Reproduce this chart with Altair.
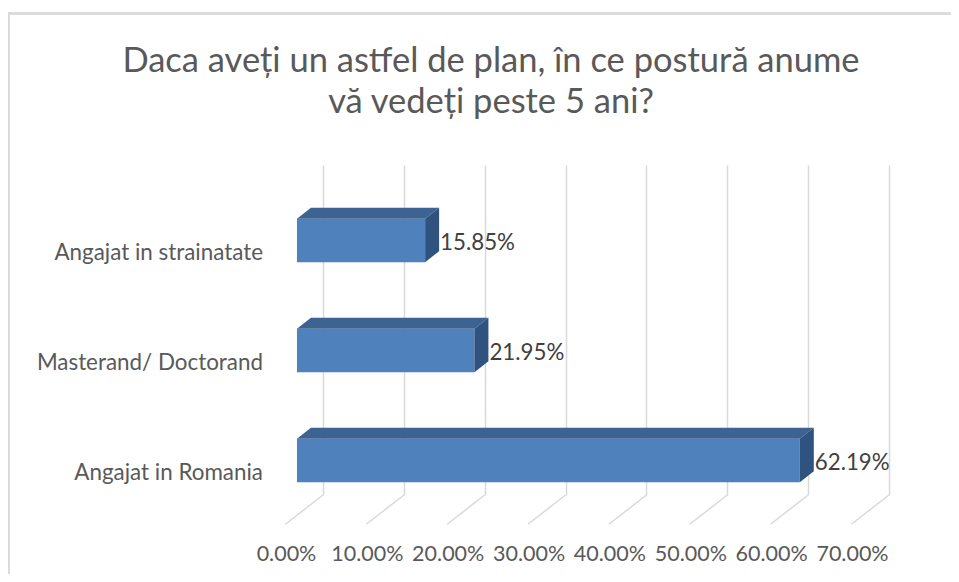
import altair as alt
import pandas as pd

# ---- data ----
categories = ["Angajat in strainatate", "Masterand/ Doctorand", "Angajat in Romania"]
values = [0.1585, 0.2195, 0.6219]
ticks = [0.0, 0.1, 0.2, 0.3, 0.4, 0.5, 0.6, 0.7]
title_lines = ["Daca aveți un astfel de plan, în ce postură anume", "vă vedeți peste 5 ani?"]

# ---- 3D styling constants (value units on x, band units on y) ----
FX = -0.0322  # front plane shift along x relative to back wall
FY = 0.186    # front plane shift along y
DX = 0.0173   # bar depth along x
DY = 0.10     # bar depth along y
H = 0.395     # front face thickness
FLOOR = 0.266 # floor depth below the back wall

FONT = "Lato"
FRONT = "#4F81BD"
TOPC = "#3C6392"
SIDE = "#2F527E"
GRID = "#D9D9D9"
TXT = "#595959"

front_rows, top_rows, side_rows = [], [], []
for i, (c, v) in enumerate(zip(categories, values)):
    mid = i + 0.5
    yt = mid + FY - H / 2
    yb = mid + FY + H / 2
    x0 = FX
    x1 = FX + v
    front_rows.append(dict(cat=c, x0=x0, x1=x1, y0=yt, y1=yb, mid=mid, lx=x1 + DX,
                           ly=mid + FY, label=f"{v*100:.2f}%", zero=0.0))
    top_rows += [
        dict(cat=c, k=0, x=x0, y=yt, y2=yt),
        dict(cat=c, k=1, x=x0 + DX, y=yt, y2=yt - DY),
        dict(cat=c, k=2, x=x1, y=yt, y2=yt - DY),
        dict(cat=c, k=3, x=x1 + DX, y=yt - DY, y2=yt - DY),
    ]
    side_rows += [
        dict(cat=c, k=0, x=x1, y=yt, y2=yb),
        dict(cat=c, k=1, x=x1 + DX, y=yt - DY, y2=yb - DY),
    ]

front_df = pd.DataFrame(front_rows)
top_df = pd.DataFrame(top_rows)
side_df = pd.DataFrame(side_rows)
tick_df = pd.DataFrame(dict(t=ticks, yb=[3.0] * len(ticks), yf=[3.0 + FLOOR] * len(ticks)))

xs = alt.Scale(domain=[0, 0.7], nice=False, zero=False)
ys = alt.Scale(domain=[0, 3], reverse=True, nice=False, zero=False)
xaxis = alt.Axis(values=ticks, format=".2%", grid=True, gridColor=GRID, gridWidth=1.5,
                 domain=False, ticks=False, tickSize=0, labelOffset=-37, labelPadding=48,
                 labelFont=FONT, labelFontSize=21.5, labelColor=TXT, title=None,
                 labelFlush=False, labelOverlap=False)

floor = alt.Chart(tick_df).mark_rule(color=GRID, strokeWidth=1.5, x2Offset=-37.6).encode(
    x=alt.X("t:Q", scale=xs, axis=xaxis),
    x2="t:Q",
    y=alt.Y("yb:Q", scale=ys, axis=None),
    y2="yf:Q",
)

front = alt.Chart(front_df).mark_rect(color=FRONT).encode(
    x=alt.X("x0:Q", scale=xs, axis=xaxis),
    x2="x1:Q",
    y=alt.Y("y0:Q", scale=ys, axis=None),
    y2="y1:Q",
)

topface = alt.Chart(top_df).mark_area(color=TOPC, orient="vertical").encode(
    x=alt.X("x:Q", scale=xs, axis=xaxis),
    y=alt.Y("y:Q", scale=ys, axis=None),
    y2="y2:Q",
    detail="cat:N",
)

sideface = alt.Chart(side_df).mark_area(color=SIDE, orient="vertical").encode(
    x=alt.X("x:Q", scale=xs, axis=xaxis),
    y=alt.Y("y:Q", scale=ys, axis=None),
    y2="y2:Q",
    detail="cat:N",
)

vlabels = alt.Chart(front_df).mark_text(align="left", baseline="middle", font=FONT,
                                        fontSize=22.3, color="#404040", dx=1, dy=2.5).encode(
    x=alt.X("lx:Q", scale=xs, axis=xaxis),
    y=alt.Y("ly:Q", scale=ys, axis=None),
    text="label:N",
)

clabels = alt.Chart(front_df).mark_text(align="right", baseline="middle", font=FONT,
                                        fontSize=22.4, color=TXT, dx=-60, dy=33).encode(
    x=alt.X("zero:Q", scale=xs, axis=xaxis),
    y=alt.Y("mid:Q", scale=ys, axis=None),
    text="cat:N",
)

frame_left = alt.Chart(front_df).mark_rule(color=GRID, strokeWidth=2).encode(
    x=alt.value(-314.5), y=alt.value(-151.5), y2=alt.value(420)
)
frame_top = alt.Chart(front_df).mark_rule(color=GRID, strokeWidth=2).encode(
    x=alt.value(-315.5), x2=alt.value(640), y=alt.value(-151.5)
)

chart = alt.layer(floor, front, topface, sideface, vlabels, clabels, frame_left, frame_top).properties(
    width=566,
    height=330,
    autosize=alt.AutoSizeParams(type="none"),
    padding={"left": 315, "top": 157, "right": 62, "bottom": 79},
    title=alt.TitleParams(text=title_lines, font=FONT, fontSize=34.5, fontWeight="normal",
                          color=TXT, lineHeight=41, anchor="middle", dx=-115, offset=38,
                          dy=146),
    background="white",
).configure_view(stroke=None)

chart.save("out.html", embed_options={"renderer": "svg", "actions": False})
